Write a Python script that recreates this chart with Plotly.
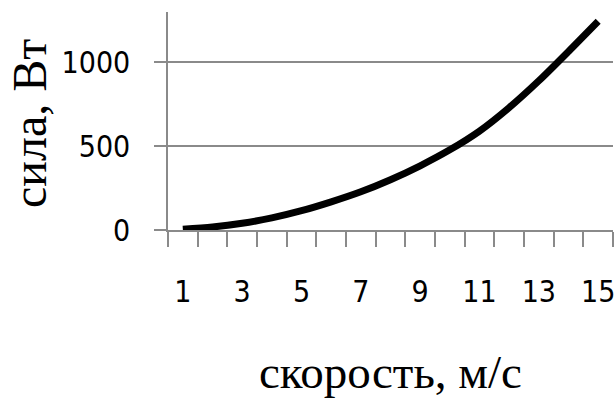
import plotly.graph_objects as go

speed = list(range(1, 16))
power = [5, 18, 40, 72, 115, 168, 228, 300, 383, 478, 590, 730, 890, 1065, 1245]
x_ticks = [1, 3, 5, 7, 9, 11, 13, 15]
y_ticks = [0, 500, 1000]
x_title = "скорость, м/с"
y_title = "сила, Вт"

GRAY = "#8a8a8a"
W, H = 614, 400
L, R, T, B = 168, 1, 12, 170
pw, ph = W - L - R, H - T - B

fig = go.Figure()
fig.add_trace(go.Scatter(x=speed, y=power, mode="lines",
                         line=dict(color="black", width=7, shape="spline", smoothing=0.8),
                         hoverinfo="skip", showlegend=False))

tickfont = dict(family="DejaVu Sans Condensed, Liberation Sans Narrow, Arial Narrow, sans-serif",
                size=30, color="black")

fig.update_layout(
    width=W, height=H,
    margin=dict(l=L, r=R, t=T, b=B, pad=0, autoexpand=False),
    paper_bgcolor="white", plot_bgcolor="white",
    xaxis=dict(range=[0.5, 15.5], tickmode="array", tickvals=x_ticks,
               ticktext=[str(v) for v in x_ticks], ticks="", automargin=False,
               ticklabeloverflow="allow",
               showgrid=False, zeroline=False, showline=True, linecolor=GRAY, linewidth=1.5,
               tickfont=tickfont, ticklabelstandoff=34,
               minor=dict(tickmode="array", tickvals=[i + 0.5 for i in range(0, 16)],
                          ticks="outside", ticklen=15, tickcolor=GRAY, tickwidth=1.5,
                          showgrid=False)),
    yaxis=dict(range=[0, 1300], tickmode="array", tickvals=y_ticks, automargin=False,
               ticklabeloverflow="allow",
               ticks="outside", ticklen=12, tickcolor=GRAY, tickwidth=1.5,
               showgrid=True, gridcolor=GRAY, gridwidth=1.5, zeroline=False,
               showline=True, linecolor=GRAY, linewidth=1.5,
               tickfont=tickfont, ticklabelstandoff=18),
    annotations=[
        dict(text=x_title, xref="paper", yref="paper",
             x=(390 - L) / pw, y=(H - B - 372) / ph, xanchor="center", yanchor="middle",
             showarrow=False, font=dict(family="Liberation Serif, Times New Roman, serif", size=47, color="black")),
        dict(text=y_title, xref="paper", yref="paper", textangle=-90,
             x=(29 - L) / pw, y=(H - B - 124) / ph, xanchor="center", yanchor="middle",
             showarrow=False, font=dict(family="Liberation Serif, Times New Roman, serif", size=48, color="black")),
    ],
)

fig.write_html("out.html", config={"displayModeBar": False},
               post_script="document.body.style.margin='0';document.body.style.overflow='hidden';")
